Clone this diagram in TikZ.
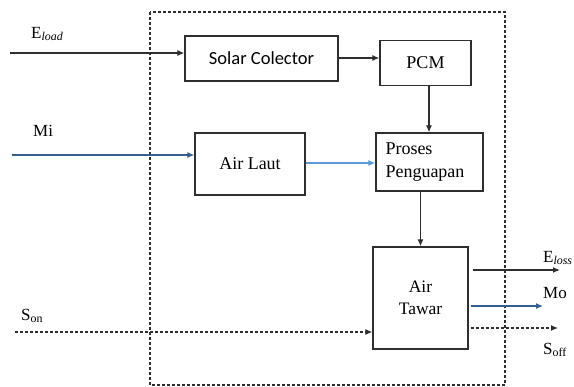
\documentclass[tikz,border=0pt]{standalone}
\usepackage{fontspec}
\setmainfont{Liberation Serif}
\newfontfamily\carlito{Carlito}
\usetikzlibrary{arrows.meta}
\definecolor{boxline}{HTML}{2E2E2E}
\definecolor{dblue}{HTML}{345F8E}
\definecolor{lblue}{HTML}{5B9BD5}
\tikzset{
  blk/.style={draw=boxline, line width=1.3pt, minimum width=#1, inner sep=0pt},
  flow/.style={line width=1.2pt, -{Latex[length=7pt,width=6pt]}},
  bound/.style={draw=boxline, line width=1.1pt, dash pattern=on 3pt off 2pt},
  lbl/.style={font=\fontsize{17}{19}\selectfont, inner sep=0pt}
}
\begin{document}
\begin{tikzpicture}[x=1pt,y=-1pt]
\useasboundingbox (0,0) rectangle (574,387);
% boundary
\draw[bound] (150,12) rectangle (505,385);
% blocks
\node[blk=153pt, minimum height=45pt, font=\carlito\fontsize{18.5}{20}\selectfont] (solar) at (261.5,58.5) {Solar Colector};
\node[blk=91pt, minimum height=45pt, font=\fontsize{18}{20}\selectfont] (pcm) at (425.5,63) {PCM};
\node[blk=110pt, minimum height=62pt, font=\fontsize{18}{20}\selectfont] (laut) at (250,164) {Air Laut};
\node[blk=107pt, minimum height=58pt, font=\fontsize{18}{23}\selectfont, align=left, text width=88pt] (proses) at (429.5,162) {Proses\\Penguapan};
\node[blk=95pt, minimum height=102pt, font=\fontsize{17.5}{22}\selectfont, align=center] (tawar) at (420.5,298) {Air\\Tawar};
% free ends
\coordinate (eloadS) at (10,53);
\coordinate (miS) at (12,155);
\coordinate (sonS) at (15,332);
\coordinate (elossE) at (560,270);
\coordinate (moE) at (543,306);
\coordinate (soffE) at (558,328);
% connectors
\draw[flow, boxline] (eloadS) -- (eloadS -| solar.west);
\draw[flow, dblue] (miS) -- (miS -| laut.west);
\draw[flow, boxline, dash pattern=on 3pt off 2pt] (sonS) -- (sonS -| tawar.west);
\draw[flow, boxline] (solar.east |- 0,58) -- (pcm.west |- 0,58);
\draw[flow, boxline] (pcm.south -| 429,0) -- (proses.north -| 429,0);
\draw[flow, lblue] (laut.east |- 0,163) -- (proses.west |- 0,163);
\draw[flow, boxline] (tawar.north |- proses.south) -- (tawar.north);
\draw[flow, boxline] ([xshift=4pt]tawar.east |- elossE) -- (elossE);
\draw[flow, dblue] ([xshift=2pt]tawar.east |- moE) -- (moE);
\draw[flow, boxline, dash pattern=on 3pt off 2pt] ([xshift=2pt]tawar.east |- soffE) -- (soffE);
% labels
\node[lbl, anchor=west] (eload) at (31,34) {E\textsubscript{\textit{load}}};
\node[lbl, anchor=west] (mi) at (33,131) {Mi};
\node[lbl, anchor=west] (son) at (21,316) {S\textsubscript{on}};
\node[lbl, anchor=west] (eloss) at (543,258) {E\textsubscript{\textit{loss}}};
\node[lbl, anchor=west] (mo) at (543,293) {Mo};
\node[lbl, anchor=west] (soff) at (543,350) {S\textsubscript{off}};
\end{tikzpicture}
\end{document}
